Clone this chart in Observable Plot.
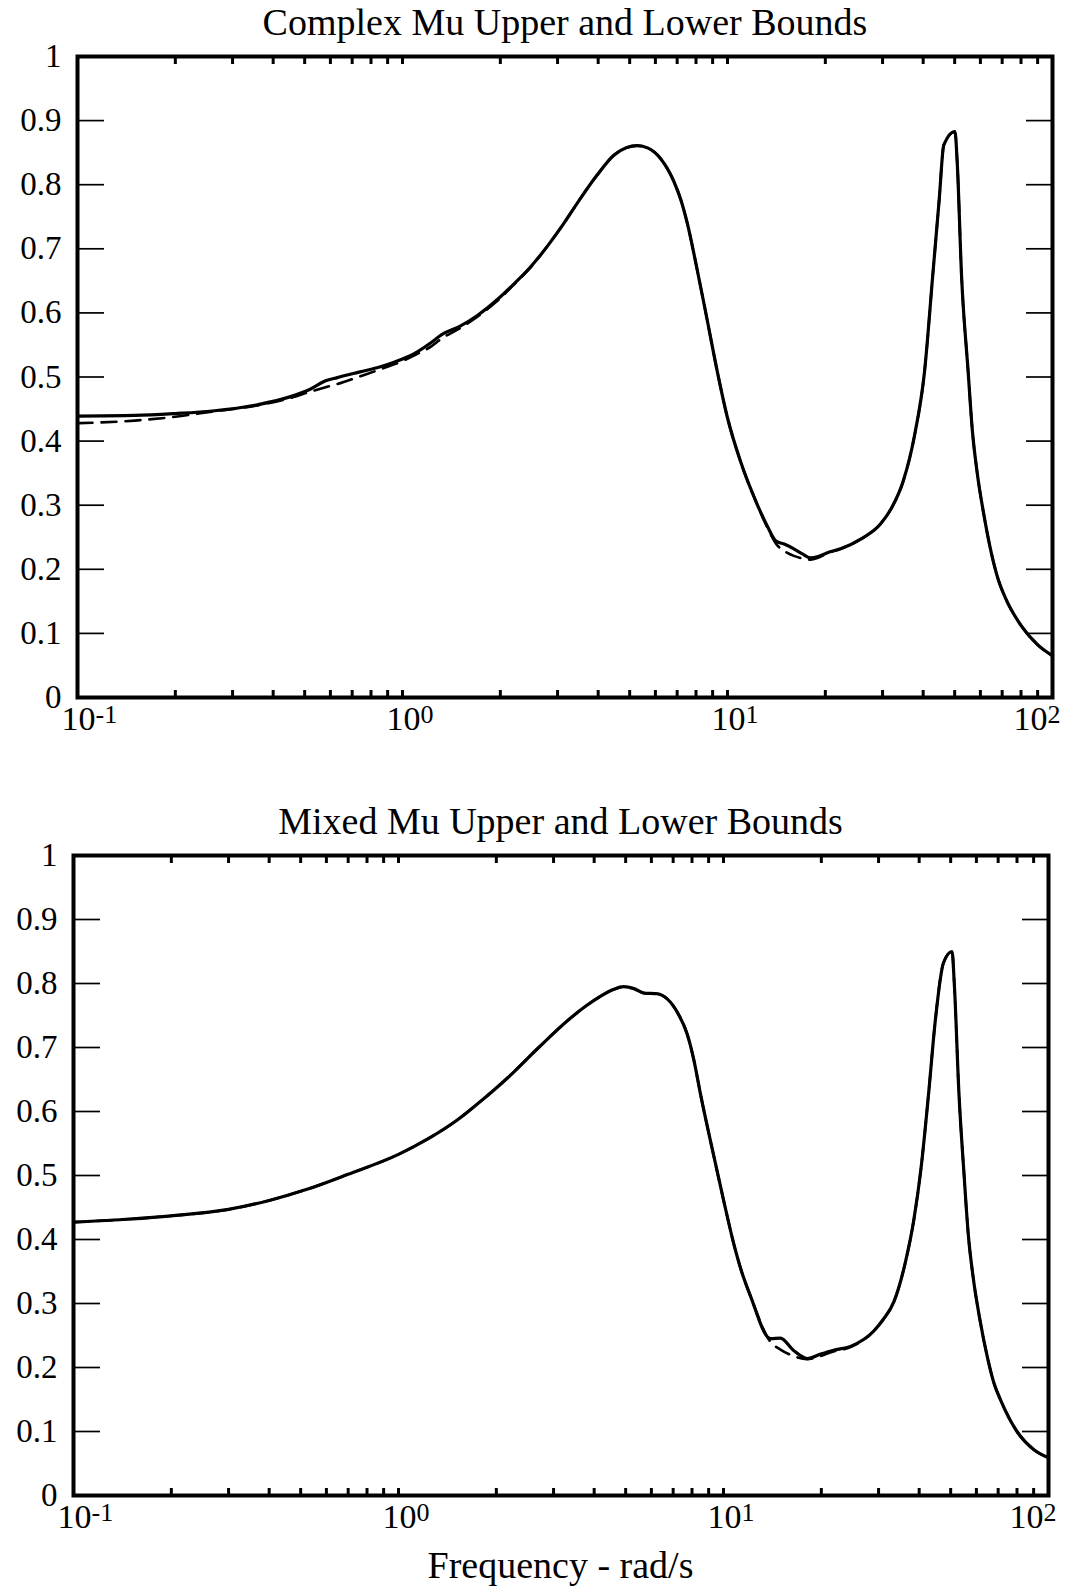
<!DOCTYPE html>
<html>
<head>
<meta charset="utf-8">
<script src="https://cdn.jsdelivr.net/npm/d3@7"></script>
<script src="https://cdn.jsdelivr.net/npm/@observablehq/plot@0.6"></script>
<style>
  html, body { margin: 0; padding: 0; background: white; }
  #page { position: relative; width: 1071px; height: 1590px; overflow: hidden; background: white; }
  .ttl { position: absolute; font-family: "Liberation Serif", "Times New Roman", serif; font-size: 38px; line-height: 38px; text-align: center; color: black; white-space: nowrap; z-index: 2; }
  .panel { position: absolute; left: 0; }
</style>
</head>
<body>
<div id="page"></div>
<script>
// ---------- data ----------
const titles = ["Complex Mu Upper and Lower Bounds", "Mixed Mu Upper and Lower Bounds"];
const xLabel = "Frequency - rad/s";

const yTicks = [0, 0.1, 0.2, 0.3, 0.4, 0.5, 0.6, 0.7, 0.8, 0.9, 1];
const yTickLabels = ["0", "0.1", "0.2", "0.3", "0.4", "0.5", "0.6", "0.7", "0.8", "0.9", "1"];
const xDecades = [0.1, 1, 10, 100];
const xExponents = ["-1", "0", "1", "2"];
const xMinorTicks = [0.2, 0.3, 0.4, 0.5, 0.6, 0.7, 0.8, 0.9, 1,
                     2, 3, 4, 5, 6, 7, 8, 9, 10,
                     20, 30, 40, 50, 60, 70, 80, 90];

// Top panel: complex mu
const freqTop = [0.1, 0.15, 0.2, 0.26, 0.36, 0.45, 0.52, 0.58, 0.63, 0.74, 0.855, 1.0, 1.1, 1.22, 1.32,
  1.5, 1.7, 1.95, 2.2, 2.48, 2.8, 3.14, 3.5, 3.97, 4.47, 4.9, 5.27, 5.7, 6.22, 6.84,
  7.2, 7.52, 8.07, 8.66, 9.29, 9.98, 10.97, 12.3, 13.3, 14.1, 15.0, 16.0, 17.0, 18.0, 19.0, 20.3,
  22.3, 25.7, 29.6, 32.0, 34.7, 37.6, 40.4, 42.8, 44.8, 46.3, 50.1, 50.9, 52.5, 55.0, 56.6,
  58.6, 61.4, 65.0, 68.0, 71.4, 80.1, 90.1, 100];
const upperTop = [0.439, 0.440, 0.443, 0.447, 0.457, 0.469, 0.481, 0.494, 0.499, 0.508, 0.516, 0.528, 0.538, 0.553, 0.566,
  0.579, 0.596, 0.620, 0.645, 0.672, 0.705, 0.740, 0.776, 0.815, 0.846, 0.858, 0.861, 0.857, 0.841, 0.805,
  0.775, 0.740, 0.667, 0.589, 0.510, 0.438, 0.368, 0.303, 0.266, 0.244, 0.239, 0.232, 0.224, 0.218, 0.220, 0.226,
  0.232, 0.247, 0.271, 0.296, 0.337, 0.408, 0.509, 0.658, 0.776, 0.862, 0.883, 0.836, 0.658, 0.509, 0.420,
  0.352, 0.287, 0.223, 0.185, 0.157, 0.112, 0.082, 0.065];
const lowerTop = [0.428, 0.432, 0.438, 0.446, 0.456, 0.467, 0.477, 0.484, 0.489, 0.501, 0.512, 0.525, 0.535, 0.547, 0.560,
  0.576, 0.594, 0.618, 0.644, 0.671, 0.705, 0.740, 0.776, 0.815, 0.846, 0.858, 0.861, 0.857, 0.841, 0.805,
  0.775, 0.740, 0.667, 0.589, 0.510, 0.438, 0.368, 0.303, 0.264, 0.240, 0.228, 0.221, 0.217, 0.215, 0.218, 0.225,
  0.232, 0.247, 0.271, 0.296, 0.337, 0.408, 0.509, 0.658, 0.776, 0.862, 0.883, 0.836, 0.658, 0.509, 0.420,
  0.352, 0.287, 0.223, 0.185, 0.157, 0.112, 0.082, 0.065];

// Bottom panel: mixed mu
const freqBottom = [0.1, 0.15, 0.2, 0.3, 0.4, 0.52, 0.7, 1.0, 1.25, 1.52, 1.8, 2.16, 2.7, 3.33, 3.8,
  4.18, 4.6, 4.93, 5.3, 5.69, 6.25, 6.71, 7.21, 7.73, 8.11, 8.49, 9.2, 10.0, 10.77, 11.4, 12.1,
  13.95, 14.97, 16.4, 18.1, 19.9, 21.8, 24.6, 29.0, 31.0, 33.4, 36.3, 38.5, 40.5, 42.8, 44.8, 47.5,
  50.5, 51.3, 53.0, 55.0, 56.6, 58.6, 61.4, 65.0, 68.0, 71.4, 80.0, 90.0, 100];
const upperBottom = [0.427, 0.432, 0.437, 0.447, 0.461, 0.478, 0.502, 0.533, 0.559, 0.587, 0.617, 0.652, 0.700, 0.743, 0.766,
  0.780, 0.791, 0.795, 0.792, 0.785, 0.784, 0.776, 0.755, 0.721, 0.680, 0.628, 0.545, 0.462, 0.392, 0.348, 0.312,
  0.245, 0.246, 0.227, 0.214, 0.221, 0.227, 0.233, 0.257, 0.275, 0.302, 0.365, 0.430, 0.510, 0.630, 0.740, 0.832,
  0.850, 0.800, 0.630, 0.500, 0.410, 0.342, 0.277, 0.214, 0.175, 0.148, 0.100, 0.072, 0.059];
const lowerBottom = [0.427, 0.432, 0.437, 0.447, 0.461, 0.478, 0.502, 0.533, 0.559, 0.587, 0.617, 0.652, 0.700, 0.743, 0.766,
  0.780, 0.791, 0.795, 0.792, 0.785, 0.784, 0.776, 0.755, 0.721, 0.680, 0.628, 0.545, 0.462, 0.392, 0.348, 0.312,
  0.240, 0.228, 0.218, 0.213, 0.218, 0.225, 0.232, 0.257, 0.275, 0.302, 0.365, 0.430, 0.510, 0.630, 0.740, 0.832,
  0.850, 0.800, 0.630, 0.500, 0.410, 0.342, 0.277, 0.214, 0.175, 0.148, 0.100, 0.072, 0.059];

// ---------- drawing ----------
const FONT = '"Liberation Serif", "Times New Roman", serif';
const page = document.getElementById("page");

function makePanel(freq, upper, lower, m) {
  const up = freq.map((f, i) => ({f, v: upper[i]}));
  const lo = freq.map((f, i) => ({f, v: lower[i]}));
  const svg = Plot.plot({
    width: 1071,
    height: m.height,
    marginLeft: m.ml, marginRight: m.mr, marginTop: m.mt, marginBottom: m.mb,
    style: {fontFamily: FONT, background: "transparent", overflow: "visible", color: "black"},
    x: {type: "log", domain: [0.1, 100]},
    y: {domain: [0, 1]},
    marks: [
      Plot.axisY(yTicks, {anchor: "left", tickSize: 27, dx: 27, fill: "none", strokeWidth: 1.7, label: null}),
      Plot.axisY(yTicks, {anchor: "right", tickSize: 27, dx: -27, fill: "none", strokeWidth: 1.7, label: null}),
      Plot.axisY(yTicks, {anchor: "left", tickSize: 0, tickPadding: 16, fontSize: 33, label: null,
        tickFormat: d => yTickLabels[yTicks.indexOf(d)]}),
      Plot.axisX(xMinorTicks, {anchor: "bottom", tickSize: 7, dy: -7, fill: "none", strokeWidth: 3, label: null}),
      Plot.axisX(xMinorTicks, {anchor: "top", tickSize: 7, dy: 7, fill: "none", strokeWidth: 3, label: null}),
      Plot.axisX(xDecades, {anchor: "bottom", tickSize: 0, tickPadding: 8, fontSize: 34, textAnchor: "start", label: null,
        tickFormat: d => xExponents[xDecades.indexOf(d)]}),
      Plot.line(lo, {x: "f", y: "v", stroke: "black", strokeWidth: 2.6, strokeDasharray: "15,9", curve: "monotone-x"}),
      Plot.line(up, {x: "f", y: "v", stroke: "black", strokeWidth: 3.2, curve: "monotone-x"}),
      Plot.frame({stroke: "black", strokeWidth: 4})
    ]
  });
  // turn the decade labels into 10 with a raised exponent
  const texts = d3.select(svg).selectAll('g[aria-label="x-axis tick label"] text');
  const n = texts.size();
  texts.each(function(_, i) {
    const t = d3.select(this);
    const exp = this.textContent;
    t.text(null);
    t.append("tspan").attr("dx", i === n - 1 ? -39 : -16).text("10");
    t.append("tspan").attr("font-size", 26).attr("dy", -7).text(exp);
  });
  svg.classList.add("panel");
  svg.style.top = m.top + "px";
  return svg;
}

page.appendChild(makePanel(freqTop, upperTop, lowerTop, {top: 0, height: 760, ml: 77, mr: 19, mt: 56, mb: 63}));
page.appendChild(makePanel(freqBottom, upperBottom, lowerBottom, {top: 790, height: 800, ml: 73, mr: 23, mt: 65, mb: 95}));

function addText(txt, top, left, width) {
  const d = document.createElement("div");
  d.className = "ttl";
  d.textContent = txt;
  d.style.top = top + "px";
  d.style.left = left + "px";
  d.style.width = width + "px";
  page.appendChild(d);
}
addText(titles[0], 3, 77, 976);
addText(titles[1], 802, 73, 975);
addText(xLabel, 1546, 73, 975);
</script>
</body>
</html>
